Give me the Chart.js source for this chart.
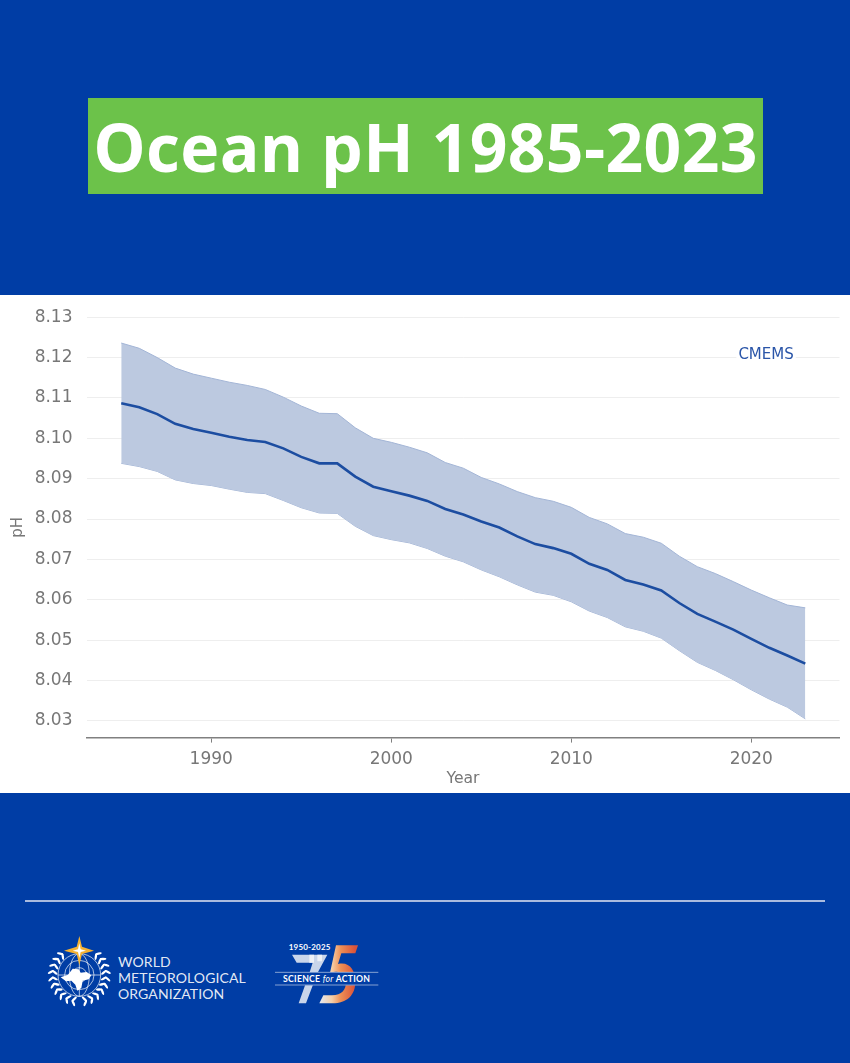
<!DOCTYPE html>
<html lang="en">
<head>
<meta charset="UTF-8">
<title>Ocean pH 1985-2023</title>
<script src="https://cdn.jsdelivr.net/npm/chart.js@4"></script>
<style>
    html, body { margin: 0; padding: 0; }
    body { width: 850px; height: 1063px; background: #003da5; position: relative; overflow: hidden; }
    .title-box {
        position: absolute; left: 88px; top: 98px; width: 675px; height: 96px;
        background: #6cc24a; color: #fff; text-align: center;
        font: 700 66px/96px 'Open Sans', sans-serif; letter-spacing: 0.35px; white-space: nowrap;
    }
    .chart-wrap { position: absolute; left: 0; top: 294.5px; width: 850px; height: 498px; background: #fff; }
    .rule { position: absolute; left: 25px; top: 900px; width: 800px; height: 2px; background: #a9bbdf; }
    #logos { position: absolute; left: 30px; top: 920px; width: 370px; height: 100px; }
</style>
</head>
<body>

<div class="title-box">Ocean pH 1985-2023</div>

<div class="chart-wrap"><canvas id="phChart" width="850" height="498"></canvas></div>

<div class="rule"></div>

<!-- footer logos, drawn in the coordinates of a 3x crop -->
<svg id="logos" viewBox="0 0 1110 300" xmlns="http://www.w3.org/2000/svg">
    <defs>
        <linearGradient id="five" gradientUnits="userSpaceOnUse" x1="868" y1="0" x2="975" y2="0">
            <stop offset="0" stop-color="#e3e9f4"/>
            <stop offset="0.35" stop-color="#f5cfa8"/>
            <stop offset="0.6" stop-color="#ee8f55"/>
            <stop offset="1" stop-color="#d9533a"/>
        </linearGradient>
    </defs>
    <g id="wreath" fill="#fff"></g>
    <g fill="none" stroke="#fff" stroke-width="2">
        <circle cx="148" cy="165" r="64"/>
        <circle cx="148" cy="165" r="44"/>
        <circle cx="148" cy="165" r="22"/>
        <ellipse cx="148" cy="165" rx="30" ry="64"/>
        <path d="M84 165H212M148 101V229"/>
    </g>
    <path fill="#fff" d="M92 172l22-8 14-18 18 2 6 10 18-2 14 10-8 12-18 4-4 22-12 8-6-18-12-12-16 2z"/>
    <path fill="#f5b335" d="M148 48l8 32 36 12-36 10-8 34-8-34-38-10 38-12z"/>
    <path fill="#fff" d="M148 70l4 18 16 4-16 4-4 18-4-18-16-4 16-4z"/>
    <g fill="#fff" font-family="Lato, sans-serif" font-size="42" letter-spacing="0.3" fill-opacity="0.9">
        <text x="264" y="142">WORLD</text>
        <text x="264" y="190">METEOROLOGICAL</text>
        <text x="264" y="238">ORGANIZATION</text>
    </g>
    <path fill="#c9d5ea" d="M786 104H892L862 160 828 250H806L838 160 848 128H800z"/>
    <path fill="#eef1f7" d="M838 104h14v24h-14zM862 104h14v20h-14z"/>
    <path fill="url(#five)" d="M918 76H984L976 100H934L924 132C958 124 976 150 976 186 976 226 950 250 908 250H868L880 226H906C936 226 948 208 948 186 948 160 930 150 900 158z"/>
    <text x="839" y="90" text-anchor="middle" fill="#fff" font-family="Lato, sans-serif" font-weight="700" font-size="24" letter-spacing="0.6">1950-2025</text>
    <rect x="735" y="156" width="310" height="40" fill="#003da5"/>
    <path d="M735 157H1045M735 195H1045" stroke="#c9d5ea" stroke-width="2"/>
    <text x="890" y="186" text-anchor="middle" fill="#fff" font-family="Lato, sans-serif" font-weight="700" font-size="26" letter-spacing="0.8">SCIENCE <tspan font-style="italic" font-weight="400">for</tspan> ACTION</text>
</svg>

<script>
    const years = [1985, 1986, 1987, 1988, 1989, 1990, 1991, 1992, 1993, 1994, 1995, 1996, 1997,
        1998, 1999, 2000, 2001, 2002, 2003, 2004, 2005, 2006, 2007, 2008, 2009, 2010,
        2011, 2012, 2013, 2014, 2015, 2016, 2017, 2018, 2019, 2020, 2021, 2022, 2023];

    const meanPh = [8.1087, 8.1077, 8.1060, 8.1036, 8.1023, 8.1014, 8.1004, 8.0996, 8.0991, 8.0975,
        8.0954, 8.0938, 8.0938, 8.0905, 8.0880, 8.0869, 8.0858, 8.0845, 8.0825, 8.0811,
        8.0794, 8.0779, 8.0757, 8.0738, 8.0728, 8.0714, 8.0689, 8.0674, 8.0649, 8.0638,
        8.0623, 8.0592, 8.0565, 8.0546, 8.0526, 8.0503, 8.0481, 8.0462, 8.0442];

    const upperPh = [8.1236, 8.1223, 8.1200, 8.1174, 8.1159, 8.1149, 8.1139, 8.1131, 8.1121, 8.1102,
        8.1080, 8.1062, 8.1061, 8.1026, 8.1000, 8.0990, 8.0978, 8.0964, 8.0940, 8.0926,
        8.0903, 8.0887, 8.0868, 8.0853, 8.0844, 8.0829, 8.0804, 8.0788, 8.0764, 8.0755,
        8.0740, 8.0708, 8.0682, 8.0665, 8.0645, 8.0624, 8.0605, 8.0587, 8.0580];

    const lowerPh = [8.0938, 8.0930, 8.0918, 8.0897, 8.0888, 8.0883, 8.0874, 8.0866, 8.0863, 8.0846,
        8.0828, 8.0815, 8.0814, 8.0782, 8.0759, 8.0749, 8.0741, 8.0727, 8.0708, 8.0694,
        8.0674, 8.0657, 8.0637, 8.0619, 8.0611, 8.0595, 8.0572, 8.0556, 8.0533, 8.0522,
        8.0505, 8.0474, 8.0445, 8.0425, 8.0402, 8.0377, 8.0354, 8.0334, 8.0305];

    const yearTicks = [1990, 2000, 2010, 2020];
    const phTicks = [8.03, 8.04, 8.05, 8.06, 8.07, 8.08, 8.09, 8.10, 8.11, 8.12, 8.13];
    const seriesLabel = 'CMEMS';

    const greyText = '#777777';
    const tickFont = { family: "'DejaVu Sans', sans-serif", size: 17 };

    // wreath leaves for the WMO emblem, pairs along an arc round the globe
    let leaves = '';
    [-1, 1].forEach(function (side) {
        for (let deg = 12; deg <= 146; deg += 14) {
            const a = deg * Math.PI / 180;
            [74, 86].forEach(function (r, k) {
                const cx = 148 + side * r * Math.sin(a);
                const cy = 165 + r * Math.cos(a);
                const turn = side * (-deg + (k ? 35 : -35));
                leaves += '<ellipse cx="' + cx + '" cy="' + cy + '" rx="3.5" ry="10" transform="rotate(' + turn + ' ' + cx + ' ' + cy + ')"/>';
            });
        }
    });
    document.getElementById('wreath').innerHTML = leaves;

    const cornerLabel = {
        id: 'cornerLabel',
        afterDatasetsDraw(chart) {
            const ctx = chart.ctx;
            const x = chart.scales.x.getPixelForValue(2020.82);
            const y = chart.scales.y.getPixelForValue(8.1205);
            ctx.save();
            ctx.font = "15px 'DejaVu Sans', sans-serif";
            const w = ctx.measureText(seriesLabel).width;
            ctx.fillStyle = '#fff';
            ctx.fillRect(x - w / 2 - 2, y - 9, w + 4, 18);
            ctx.fillStyle = '#2a55a8';
            ctx.textAlign = 'center';
            ctx.textBaseline = 'middle';
            ctx.fillText(seriesLabel, x, y);
            ctx.restore();
        }
    };

    function toPoints(values) {
        return values.map(function (v, i) { return { x: years[i], y: v }; });
    }

    new Chart(document.getElementById('phChart'), {
        type: 'line',
        plugins: [cornerLabel],
        data: {
            datasets: [
                { label: 'Upper', data: toPoints(upperPh), borderColor: '#a3b5d6', borderWidth: 1,
                  backgroundColor: '#bcc9e0', fill: '+1', pointRadius: 0, order: 2 },
                { label: 'Lower', data: toPoints(lowerPh), borderColor: '#a3b5d6', borderWidth: 1,
                  fill: false, pointRadius: 0, order: 2 },
                { label: 'Mean', data: toPoints(meanPh), borderColor: '#1c4da1', borderWidth: 2.6,
                  fill: false, pointRadius: 0, order: 1 }
            ]
        },
        options: {
            responsive: false,
            animation: false,
            layout: { padding: { top: 22.2, right: 10.5, left: 0, bottom: 5.4 } },
            plugins: { legend: { display: false }, tooltip: { enabled: false } },
            scales: {
                x: {
                    type: 'linear',
                    min: 1983.07,
                    max: 2024.9,
                    afterBuildTicks(axis) { axis.ticks = yearTicks.map(function (v) { return { value: v }; }); },
                    afterFit(axis) { axis.height = 50; },
                    grid: { display: true, drawOnChartArea: false, drawTicks: true, tickLength: 5, color: '#808080' },
                    border: { color: '#808080', width: 1.5 },
                    ticks: { color: greyText, font: tickFont, padding: 7, maxRotation: 0, callback: function (v) { return String(v); } },
                    title: { display: true, text: 'Year', color: greyText, font: { family: tickFont.family, size: 15.6 }, padding: { top: 0, bottom: -1 } }
                },
                y: {
                    min: 8.02586,
                    max: 8.13,
                    afterBuildTicks(axis) { axis.ticks = phTicks.map(function (v) { return { value: v }; }); },
                    afterFit(axis) {
                        axis.width = 86.5;
                        axis.paddingTop = 0;
                        axis.paddingBottom = 0;
                    },
                    grid: { color: '#eeeeee', lineWidth: 1, drawTicks: false },
                    border: { display: false },
                    ticks: { color: greyText, font: tickFont, padding: 14, callback: function (v) { return v.toFixed(2); } },
                    title: { display: true, text: 'pH', color: greyText, font: { family: tickFont.family, size: 15 }, padding: { top: 9, bottom: 0 } }
                }
            }
        }
    });
</script>
</body>
</html>
